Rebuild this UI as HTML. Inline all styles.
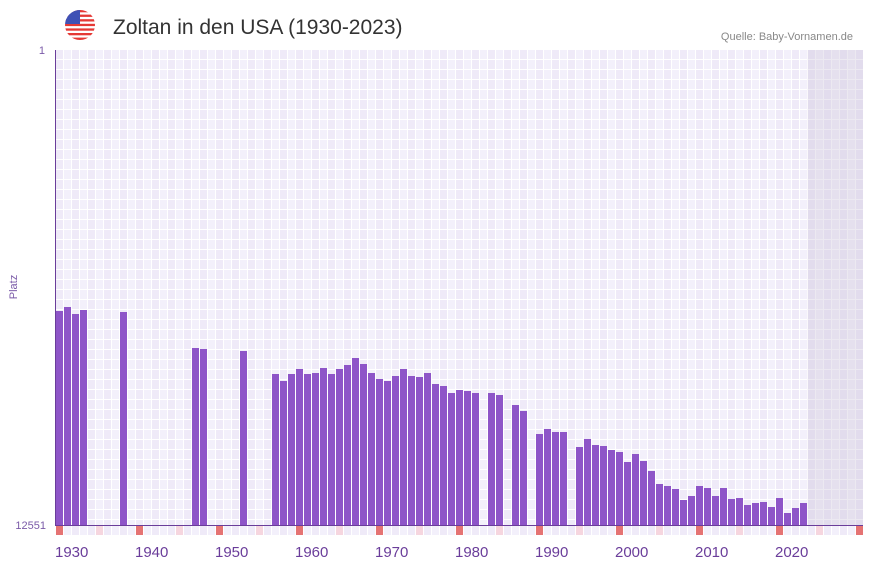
<!DOCTYPE html>
<html><head><meta charset="utf-8"><style>
body{margin:0;background:#fff;width:873px;height:567px;overflow:hidden;font-family:"Liberation Sans",sans-serif}
</style></head><body>
<svg width="873" height="567" viewBox="0 0 873 567" xmlns="http://www.w3.org/2000/svg">
<defs>
<pattern id="g" x="55" y="50" width="16" height="10" patternUnits="userSpaceOnUse">
<rect width="16" height="10" fill="#fff"/>
<rect x="1" y="0" width="7" height="9" fill="#efeaf8"/>
<rect x="9" y="0" width="7" height="9" fill="#f3f0fb"/>
</pattern>
<pattern id="s" x="55" y="525" width="16" height="10" patternUnits="userSpaceOnUse">
<rect width="16" height="10" fill="#fff"/>
<rect x="1" y="0" width="7" height="10" fill="#efeaf8"/>
<rect x="9" y="0" width="7" height="10" fill="#f3f0fb"/>
</pattern>
<clipPath id="fc"><circle cx="80" cy="25" r="15"/></clipPath>
</defs>
<g clip-path="url(#fc)">
<rect x="65" y="10" width="30" height="30" fill="#fff"/>
<g fill="#e53935">
<rect x="65" y="10" width="30" height="2.3"/><rect x="65" y="14.6" width="30" height="2.3"/><rect x="65" y="19.2" width="30" height="2.3"/><rect x="65" y="23.8" width="30" height="2.3"/><rect x="65" y="28.4" width="30" height="2.3"/><rect x="65" y="33" width="30" height="2.3"/><rect x="65" y="37.6" width="30" height="2.4"/>
</g>
<rect x="65" y="10" width="15" height="14" fill="#3f51b5"/>
</g>
<text x="113" y="34" font-size="21" fill="#333">Zoltan in den USA (1930-2023)</text>
<text x="853" y="40" font-size="11" fill="#888" text-anchor="end">Quelle: Baby-Vornamen.de</text>
<rect x="55" y="50" width="808" height="475" fill="url(#g)"/>
<rect x="55" y="525" width="808" height="10" fill="url(#s)"/>
<rect x="807.7" y="50" width="55.3" height="475" fill="#cfc8dc" opacity="0.4"/>
<path fill="#8e55c8" d="M56 311h7V525h-7ZM64 307h7V525h-7ZM72 314h7V525h-7ZM80 310h7V525h-7ZM120 312h7V525h-7ZM192 348h7V525h-7ZM200 349h7V525h-7ZM240 351h7V525h-7ZM272 374h7V525h-7ZM280 381h7V525h-7ZM288 374h7V525h-7ZM296 369h7V525h-7ZM304 374h7V525h-7ZM312 373h7V525h-7ZM320 368h7V525h-7ZM328 374h7V525h-7ZM336 369h7V525h-7ZM344 365h7V525h-7ZM352 358h7V525h-7ZM360 364h7V525h-7ZM368 373h7V525h-7ZM376 379h7V525h-7ZM384 381h7V525h-7ZM392 376h7V525h-7ZM400 369h7V525h-7ZM408 376h7V525h-7ZM416 377h7V525h-7ZM424 373h7V525h-7ZM432 384h7V525h-7ZM440 386h7V525h-7ZM448 393h7V525h-7ZM456 390h7V525h-7ZM464 391h7V525h-7ZM472 393h7V525h-7ZM488 393h7V525h-7ZM496 395h7V525h-7ZM512 405h7V525h-7ZM520 411h7V525h-7ZM536 434h7V525h-7ZM544 429h7V525h-7ZM552 432h7V525h-7ZM560 432h7V525h-7ZM576 447h7V525h-7ZM584 439h7V525h-7ZM592 445h7V525h-7ZM600 446h7V525h-7ZM608 450h7V525h-7ZM616 452h7V525h-7ZM624 462h7V525h-7ZM632 454h7V525h-7ZM640 461h7V525h-7ZM648 471h7V525h-7ZM656 484h7V525h-7ZM664 486h7V525h-7ZM672 489h7V525h-7ZM680 500h7V525h-7ZM688 496h7V525h-7ZM696 486h7V525h-7ZM704 488h7V525h-7ZM712 496h7V525h-7ZM720 488h7V525h-7ZM728 499h7V525h-7ZM736 498h7V525h-7ZM744 505h7V525h-7ZM752 503h7V525h-7ZM760 502h7V525h-7ZM768 507h7V525h-7ZM776 498h7V525h-7ZM784 513h7V525h-7ZM792 508h7V525h-7ZM800 503h7V525h-7Z"/>
<g fill="#e57373">
<rect x="56" y="525" width="7" height="10"/><rect x="136" y="525" width="7" height="10"/><rect x="216" y="525" width="7" height="10"/><rect x="296" y="525" width="7" height="10"/><rect x="376" y="525" width="7" height="10"/><rect x="456" y="525" width="7" height="10"/><rect x="536" y="525" width="7" height="10"/><rect x="616" y="525" width="7" height="10"/><rect x="696" y="525" width="7" height="10"/><rect x="776" y="525" width="7" height="10"/><rect x="856" y="525" width="7" height="10"/>
</g>
<g fill="#f6d6df">
<rect x="96" y="525" width="7" height="10"/><rect x="176" y="525" width="7" height="10"/><rect x="256" y="525" width="7" height="10"/><rect x="336" y="525" width="7" height="10"/><rect x="416" y="525" width="7" height="10"/><rect x="496" y="525" width="7" height="10"/><rect x="576" y="525" width="7" height="10"/><rect x="656" y="525" width="7" height="10"/><rect x="736" y="525" width="7" height="10"/><rect x="816" y="525" width="7" height="10"/>
</g>
<line x1="55.5" y1="50" x2="55.5" y2="525" stroke="#6a3d9a" stroke-width="1"/>
<line x1="55" y1="525.5" x2="863" y2="525.5" stroke="#6a3d9a" stroke-width="1"/>
<g font-size="11" fill="#7a5aa8" text-anchor="end">
<text x="45" y="54">1</text>
<text x="46" y="529">12551</text>
</g>
<text transform="translate(17,287) rotate(-90)" font-size="11" fill="#7a5aa8" text-anchor="middle">Platz</text>
<g font-size="15" fill="#6a3d9a">
<text x="55" y="557">1930</text><text x="135" y="557">1940</text><text x="215" y="557">1950</text><text x="295" y="557">1960</text><text x="375" y="557">1970</text><text x="455" y="557">1980</text><text x="535" y="557">1990</text><text x="615" y="557">2000</text><text x="695" y="557">2010</text><text x="775" y="557">2020</text>
</g>
</svg>
</body></html>
